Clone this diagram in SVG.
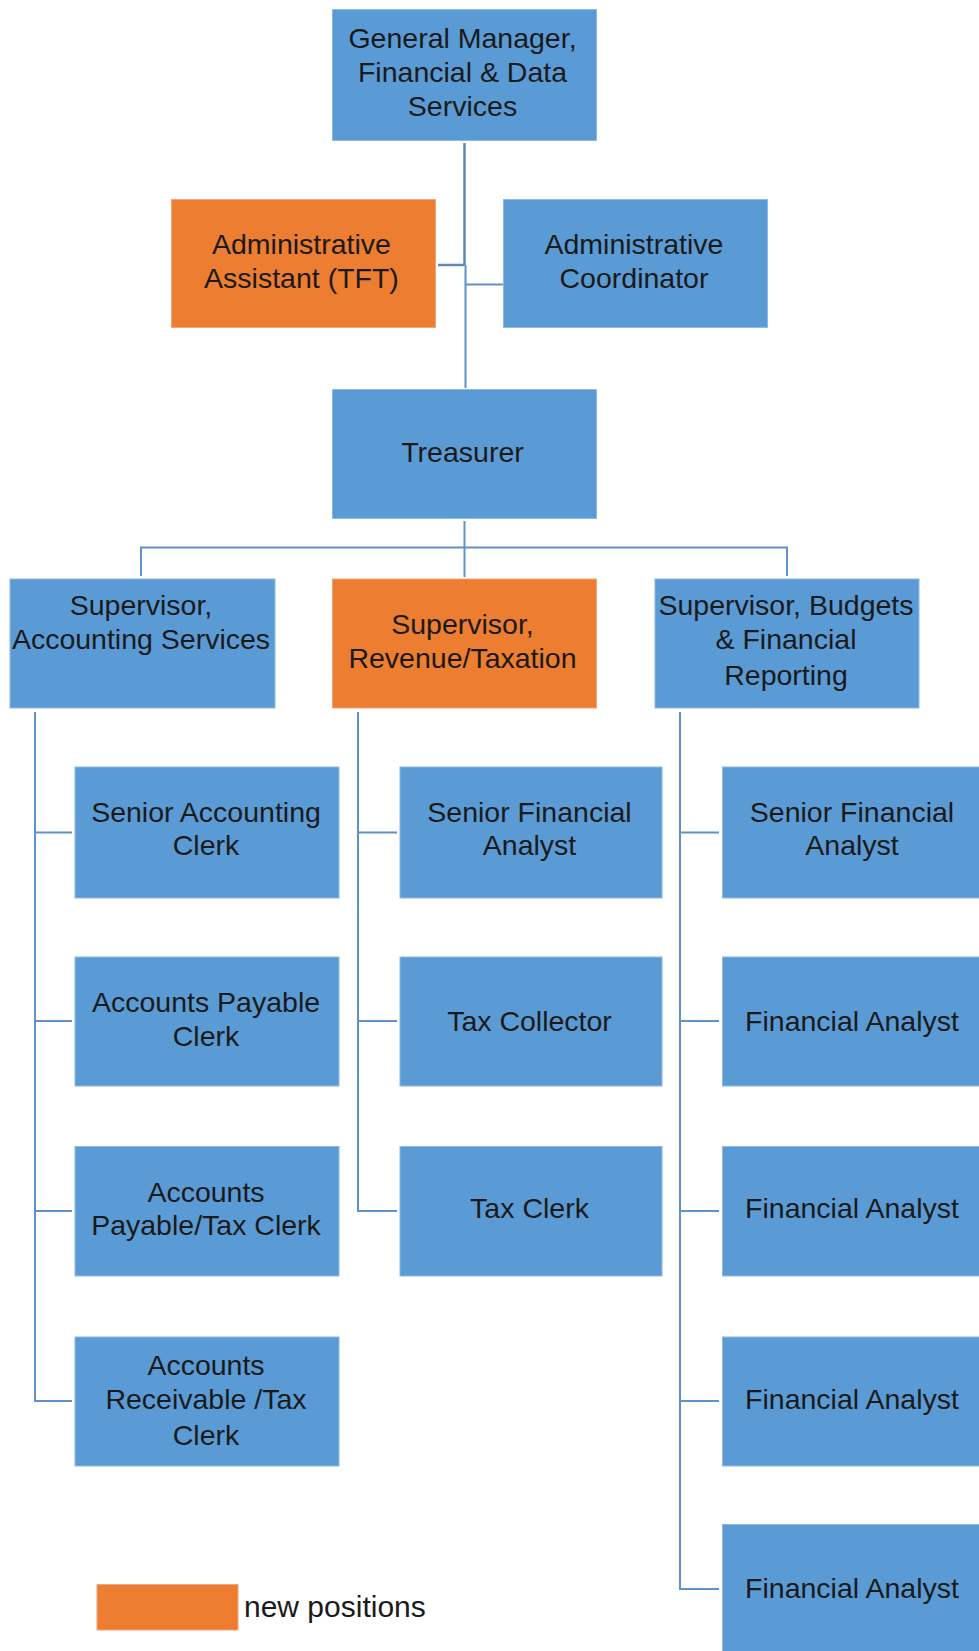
<svg xmlns="http://www.w3.org/2000/svg" width="979" height="1651" viewBox="0 0 979 1651">
<style>
.b{fill:#5b9bd5;stroke:#8fb8e2;stroke-width:1}
.o{fill:#ed7d31;stroke:#f3a57a;stroke-width:1}
text{font-family:"Liberation Sans",Arial,sans-serif;font-size:28.5px;fill:#1a1a1a;text-anchor:middle}
.c{fill:none;stroke:#5f92c9;stroke-width:2}
.d{fill:none;stroke:#5d8ab8;stroke-width:2.5}
</style>
<rect width="979" height="1651" fill="#ffffff"/>
<g id="connectors">
<path class="d" d="M464.5 143 V265 M438 265 H464.5"/>
<path class="c" d="M465.5 265 V388 M466 284.5 H503"/>
<path class="c" d="M464.5 521 V577"/>
<path class="c" stroke-width="3" d="M141 576 V547.5 H787 V576"/>
<path class="c" d="M35 712 V1401 H72 M35 832.5 H72 M35 1021 H72 M35 1211 H72"/>
<path class="c" d="M358 712 V1211 H397 M358 832.5 H397 M358 1021 H397"/>
<path class="c" d="M680 712 V1589 H719 M680 832.5 H719 M680 1021 H719 M680 1211 H719 M680 1401 H719"/>
</g>
<g id="gm"><rect class="b" x="332.5" y="9.5" width="264" height="131"/><text x="462.5" y="48">General Manager,</text><text x="462.5" y="82">Financial &amp; Data</text><text x="462.5" y="116">Services</text></g>
<g id="admin-assistant"><rect class="o" x="171.5" y="199.5" width="264" height="128"/><text x="301.5" y="254">Administrative</text><text x="301.5" y="288">Assistant (TFT)</text></g>
<g id="admin-coordinator"><rect class="b" x="503.5" y="199.5" width="264" height="128"/><text x="634" y="254">Administrative</text><text x="634" y="288">Coordinator</text></g>
<g id="treasurer"><rect class="b" x="332.5" y="389.5" width="264" height="129"/><text x="462.5" y="462">Treasurer</text></g>
<g id="sup-accounting"><rect class="b" x="10" y="579" width="265" height="129"/><text x="141" y="615">Supervisor,</text><text x="141" y="649">Accounting Services</text></g>
<g id="sup-revenue"><rect class="o" x="332.5" y="579" width="264" height="129"/><text x="462.5" y="634">Supervisor,</text><text x="462.5" y="668">Revenue/Taxation</text></g>
<g id="sup-budgets"><rect class="b" x="655" y="579" width="264" height="129"/><text x="786" y="615">Supervisor, Budgets</text><text x="786" y="649">&amp; Financial</text><text x="786" y="685">Reporting</text></g>
<g id="senior-accounting-clerk"><rect class="b" x="75" y="767" width="264" height="131"/><text x="206" y="822">Senior Accounting</text><text x="206" y="855">Clerk</text></g>
<g id="ap-clerk"><rect class="b" x="75" y="957" width="264" height="129"/><text x="206" y="1012">Accounts Payable</text><text x="206" y="1046">Clerk</text></g>
<g id="ap-tax-clerk"><rect class="b" x="75" y="1146.5" width="264" height="129.5"/><text x="206" y="1202">Accounts</text><text x="206" y="1235">Payable/Tax Clerk</text></g>
<g id="ar-tax-clerk"><rect class="b" x="75" y="1337" width="264" height="129"/><text x="206" y="1375">Accounts</text><text x="206" y="1409">Receivable /Tax</text><text x="206" y="1445">Clerk</text></g>
<g id="senior-fa-2"><rect class="b" x="400" y="767" width="262" height="131"/><text x="529.5" y="822">Senior Financial</text><text x="529.5" y="855">Analyst</text></g>
<g id="tax-collector"><rect class="b" x="400" y="957" width="262" height="129"/><text x="529.5" y="1031">Tax Collector</text></g>
<g id="tax-clerk"><rect class="b" x="400" y="1146.5" width="262" height="129.5"/><text x="529.5" y="1218">Tax Clerk</text></g>
<g id="senior-fa-3"><rect class="b" x="722.5" y="767" width="264" height="131"/><text x="852" y="822">Senior Financial</text><text x="852" y="855">Analyst</text></g>
<g id="fa-1"><rect class="b" x="722.5" y="957" width="264" height="129"/><text x="852" y="1031">Financial Analyst</text></g>
<g id="fa-2"><rect class="b" x="722.5" y="1146.5" width="264" height="129.5"/><text x="852" y="1218">Financial Analyst</text></g>
<g id="fa-3"><rect class="b" x="722.5" y="1337" width="264" height="129"/><text x="852" y="1409">Financial Analyst</text></g>
<g id="fa-4"><rect class="b" x="722.5" y="1524.5" width="264" height="135"/><text x="852" y="1598">Financial Analyst</text></g>
<g id="legend"><rect class="o" x="97" y="1584.5" width="141" height="45.5"/><text x="244" y="1617" style="text-anchor:start;font-size:30px">new positions</text></g>
</svg>
